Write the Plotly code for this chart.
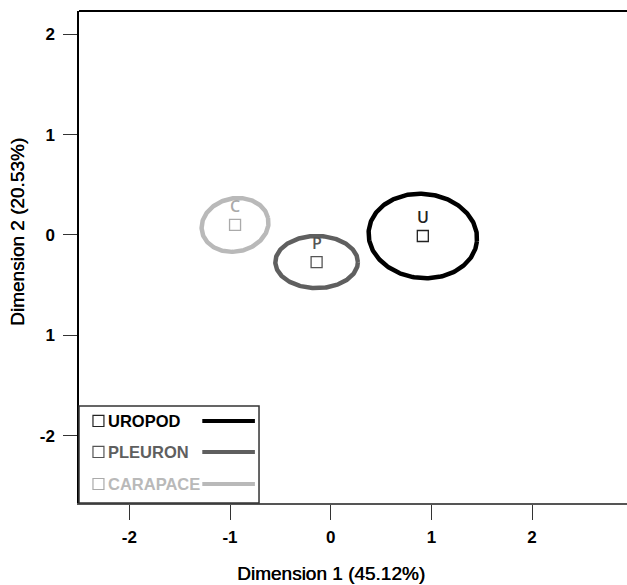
import numpy as np
import plotly.graph_objects as go

# ---- data ----
groups = ["UROPOD", "PLEURON", "CARAPACE"]
letters = ["U", "P", "C"]
centroid_x = [0.915, -0.14, -0.95]
centroid_y = [-0.01, -0.27, 0.10]
ellipse_rx = [0.54, 0.41, 0.335]
ellipse_ry = [0.42, 0.26, 0.265]
ellipse_angle_deg = [-6, 0, 12]
colors = ["#000000", "#5f5f5f", "#b9b9b9"]
marker_colors = ["#222222", "#555555", "#aaaaaa"]

x_tickvals = [-2, -1, 0, 1, 2]
x_ticktext = ["-2", "-1", "0", "1", "2"]
y_tickvals = [2, 1, 0, -1, -2]
y_ticktext = ["2", "1", "0", "1", "-2"]

x_title = "Dimension 1 (45.12%)"
y_title = "Dimension 2 (20.53%)"

FONT = "Liberation Sans, Arial, sans-serif"

fig = go.Figure()

t = np.linspace(0, 2 * np.pi, 241)
for i in range(len(groups)):
    a = np.deg2rad(ellipse_angle_deg[i])
    ex = ellipse_rx[i] * np.cos(t)
    ey = ellipse_ry[i] * np.sin(t)
    xs = centroid_x[i] + ex * np.cos(a) - ey * np.sin(a)
    ys = centroid_y[i] + ex * np.sin(a) + ey * np.cos(a)
    fig.add_trace(go.Scatter(x=xs, y=ys, mode="lines",
                             line=dict(color=colors[i], width=4.5),
                             showlegend=False, hoverinfo="skip"))

fig.add_trace(go.Scatter(
    x=centroid_x, y=centroid_y, mode="markers",
    marker=dict(symbol="square-open", size=11,
                color=marker_colors, line=dict(width=1.3, color=marker_colors)),
    showlegend=False))

for i in range(len(groups)):
    fig.add_annotation(x=centroid_x[i], y=centroid_y[i], text=letters[i],
                       showarrow=False, yshift=19,
                       font=dict(family="Open Sans, sans-serif", size=16,
                                 color=marker_colors[i], weight=600))

# ---- manual legend (paper coords) ----
shapes = []
shapes.append(dict(type="rect", xref="paper", yref="paper",
                   x0=0, x1=0.3285, y0=0, y1=0.197,
                   line=dict(color="#333333", width=1.5), fillcolor="white",
                   layer="above"))
row_y = [0.1667, 0.1037, 0.0386]
for i in range(len(groups)):
    yc = row_y[i]
    shapes.append(dict(type="rect", xref="paper", yref="paper",
                       x0=0.0255, x1=0.0455, y0=yc - 0.0112, y1=yc + 0.0112,
                       line=dict(color=marker_colors[i], width=1.2),
                       layer="above"))
    shapes.append(dict(type="line", xref="paper", yref="paper",
                       x0=0.225, x1=0.321, y0=yc, y1=yc,
                       line=dict(color=colors[i], width=4), layer="above"))
    fig.add_annotation(xref="paper", yref="paper", x=0.049, y=yc,
                       xanchor="left", yanchor="middle", text=groups[i],
                       showarrow=False,
                       font=dict(family=FONT, size=16.5, color=colors[i] if i else "#000",
                                 weight="bold"))

# top frame line
shapes.append(dict(type="line", xref="paper", yref="paper",
                   x0=0, x1=1, y0=1, y1=1,
                   line=dict(color="#000000", width=2)))

# axis titles as annotations
fig.add_annotation(xref="x", yref="paper", x=0, y=0, yshift=-70,
                   text=x_title, showarrow=False, yanchor="middle",
                   font=dict(family=FONT, size=19, color="#000",
                             shadow="0.5px 0px 0px #000"))
fig.add_annotation(xref="paper", yref="y", x=0, y=0.03, xshift=-61,
                   text=y_title, showarrow=False, textangle=-90,
                   xanchor="center",
                   font=dict(family=FONT, size=19, color="#000",
                             shadow="0.5px 0px 0px #000"))

fig.update_layout(
    width=627, height=585,
    margin=dict(l=79, r=0, t=11, b=82),
    plot_bgcolor="white", paper_bgcolor="white",
    shapes=shapes,
    xaxis=dict(range=[-2.50, 2.943], tickvals=x_tickvals, ticktext=x_ticktext,
               showgrid=False, zeroline=False, showline=True,
               linecolor="#555555", linewidth=2,
               ticks="outside", ticklen=15, tickcolor="#333333", tickwidth=1,
               ticklabelstandoff=3,
               tickfont=dict(family=FONT, size=17, color="#000", weight="bold")),
    yaxis=dict(range=[-2.672, 2.233], tickvals=y_tickvals, ticktext=y_ticktext,
               showgrid=False, zeroline=False, showline=True,
               linecolor="#000000", linewidth=1.5,
               ticks="outside", ticklen=14, tickcolor="#333333", tickwidth=1,
               ticklabelstandoff=5,
               tickfont=dict(family=FONT, size=17, color="#000", weight="bold")),
)

fig.write_html("out.html", config={"displayModeBar": False},
               post_script="document.body.style.margin='0';document.body.style.overflow='hidden';")
